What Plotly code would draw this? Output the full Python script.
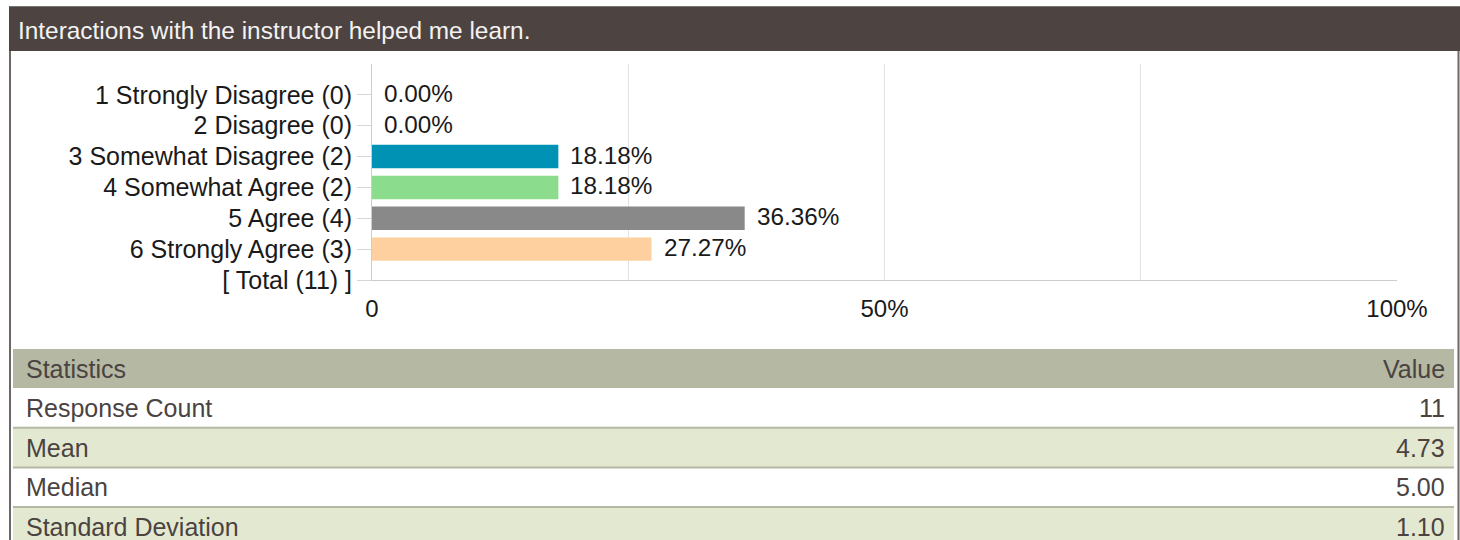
import plotly.graph_objects as go

# ---- data ----
categories = [
    "1 Strongly Disagree (0)",
    "2 Disagree (0)",
    "3 Somewhat Disagree (2)",
    "4 Somewhat Agree (2)",
    "5 Agree (4)",
    "6 Strongly Agree (3)",
    "[ Total (11) ]",
]
percentages = [0.00, 0.00, 18.18, 18.18, 36.36, 27.27]
bar_colors = ["#0092b4", "#0092b4", "#0092b4", "#8bdc8c", "#898989", "#fed09f"]

x_tickvals = [0, 25, 50, 75, 100]
x_ticktext = ["0", "", "50%", "", "100%"]

title_text = "Interactions with the instructor helped me learn."
stat_header = ["Statistics", "Value"]
stat_names = ["Response Count", "Mean", "Median", "Standard Deviation"]
stat_values = ["11", "4.73", "5.00", "1.10"]

# ---- page geometry (pixels) ----
W, H = 1460, 540
FONT = "Liberation Sans, Arial, sans-serif"


def px(x):
    return x / W


def py(y):
    return 1 - y / H


fig = go.Figure()
fig.add_trace(
    go.Bar(
        x=percentages,
        y=categories[: len(percentages)],
        orientation="h",
        marker=dict(color=bar_colors, line=dict(width=0)),
        width=0.76,
        hoverinfo="skip",
    )
)

# value labels to the right of each bar
annotations = []
for cat, v in zip(categories, percentages):
    annotations.append(
        dict(
            x=v, y=cat, xref="x", yref="y",
            text=f"{v:.2f}%", showarrow=False,
            xanchor="left", yanchor="middle", xshift=10, yshift=1.5,
            font=dict(family=FONT, size=24.3, color="#1a1a1a"),
        )
    )

shapes = []

# title band
shapes.append(dict(type="rect", xref="paper", yref="paper",
                   x0=px(9), x1=px(1460), y0=py(51), y1=py(6.5),
                   fillcolor="#4d4442", line=dict(width=0), layer="below"))
shapes.append(dict(type="line", xref="paper", yref="paper",
                   x0=px(9), x1=px(1460), y0=py(6.5), y1=py(6.5),
                   line=dict(color="#7a7473", width=1)))
annotations.append(dict(
    x=px(16), y=py(31), xref="paper", yref="paper",
    text=title_text, showarrow=False, xanchor="left", yanchor="middle",
    font=dict(family=FONT, size=24.4, color="#f4f2f2"),
))

# frame sides
for xv in (10, 1458.5):
    shapes.append(dict(type="line", xref="paper", yref="paper",
                       x0=px(xv), x1=px(xv), y0=py(51), y1=py(540),
                       line=dict(color="#6f6767", width=2)))

# statistics table
tbl_x0, tbl_x1 = 13, 1454
head_top, head_bot = 349, 388
row_h = 39.7
text_col = "#4a4341"
TABLE_FONT = dict(family=FONT, size=25, color=text_col)
shapes.append(dict(type="rect", xref="paper", yref="paper",
                   x0=px(tbl_x0), x1=px(tbl_x1), y0=py(head_bot), y1=py(head_top),
                   fillcolor="#b5b8a3", line=dict(width=0), layer="below"))
annotations.append(dict(x=px(23.5), y=py((head_top + head_bot) / 2), xref="paper", yref="paper",
                        text=stat_header[0], showarrow=False, xanchor="left", yanchor="middle",
                        font=TABLE_FONT))
annotations.append(dict(x=px(1446.5), y=py((head_top + head_bot) / 2), xref="paper", yref="paper",
                        text=stat_header[1], showarrow=False, xanchor="right", yanchor="middle",
                        font=TABLE_FONT))

for i, (name, val) in enumerate(zip(stat_names, stat_values)):
    top = head_bot + i * row_h
    bot = top + row_h
    fill = "#ffffff" if i % 2 == 0 else "#e3e9d0"
    shapes.append(dict(type="rect", xref="paper", yref="paper",
                       x0=px(tbl_x0), x1=px(tbl_x1), y0=py(bot), y1=py(top),
                       fillcolor=fill, line=dict(width=0), layer="below"))
    if i > 0:
        shapes.append(dict(type="line", xref="paper", yref="paper",
                           x0=px(tbl_x0), x1=px(tbl_x1), y0=py(top), y1=py(top),
                           line=dict(color="#b5b8a3", width=2)))
    cy = py(top + row_h / 2)
    annotations.append(dict(x=px(23.5), y=cy, xref="paper", yref="paper",
                            text=name, showarrow=False, xanchor="left", yanchor="middle",
                            font=TABLE_FONT))
    annotations.append(dict(x=px(1446.5), y=cy, xref="paper", yref="paper",
                            text=val, showarrow=False, xanchor="right", yanchor="middle",
                            font=TABLE_FONT))

fig.update_layout(
    width=W, height=H,
    margin=dict(l=0, r=0, t=0, b=0, pad=0),
    paper_bgcolor="white", plot_bgcolor="white",
    showlegend=False,
    shapes=shapes,
    annotations=annotations,
    xaxis=dict(
        domain=[px(372), px(1397)],
        range=[0, 100],
        tickvals=x_tickvals, ticktext=x_ticktext,
        showgrid=True, gridcolor="#e2e2e2", gridwidth=1,
        zeroline=False,
        showline=True, linecolor="#cccccc", linewidth=1,
        ticks="", ticklabelstandoff=7,
        tickfont=dict(family=FONT, size=24, color="#1a1a1a"),
        automargin=False,
        fixedrange=True,
    ),
    yaxis=dict(
        domain=[py(280), py(64)],
        type="category",
        categoryorder="array", categoryarray=categories,
        range=[6, -1],
        showgrid=False, zeroline=False,
        showline=True, linecolor="#cccccc", linewidth=1,
        ticks="outside", ticklen=14, tickcolor="#d6d6d6", tickwidth=1,
        tickfont=dict(family=FONT, size=25, color="#1a1a1a"),
        automargin=False,
        fixedrange=True,
    ),
)

fig.write_html("out.html")
